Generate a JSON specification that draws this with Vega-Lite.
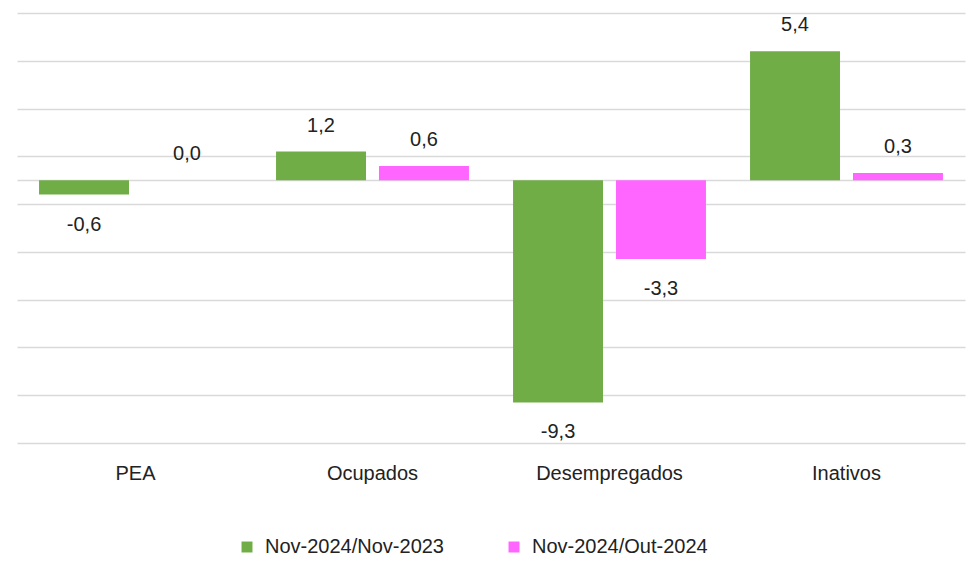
{
  "$schema": "https://vega.github.io/schema/vega-lite/v6.json",
  "width": 948,
  "height": 430,
  "autosize": {"type": "none"},
  "padding": {"left": 17, "top": 13, "right": 5, "bottom": 127},
  "config": {
    "locale": {"number": {"decimal": ",", "thousands": ".", "grouping": [3], "currency": ["", ""], "minus": "-"}},
    "view": {"stroke": null},
    "font": "Liberation Sans"
  },
  "data": {
    "values": [
      {"cat": "PEA", "serie": "Nov-2024/Nov-2023", "value": -0.6},
      {"cat": "PEA", "serie": "Nov-2024/Out-2024", "value": 0.0},
      {"cat": "Ocupados", "serie": "Nov-2024/Nov-2023", "value": 1.2},
      {"cat": "Ocupados", "serie": "Nov-2024/Out-2024", "value": 0.6},
      {"cat": "Desempregados", "serie": "Nov-2024/Nov-2023", "value": -9.3},
      {"cat": "Desempregados", "serie": "Nov-2024/Out-2024", "value": -3.3},
      {"cat": "Inativos", "serie": "Nov-2024/Nov-2023", "value": 5.4},
      {"cat": "Inativos", "serie": "Nov-2024/Out-2024", "value": 0.3}
    ]
  },
  "encoding": {
    "x": {
      "field": "cat", "type": "nominal",
      "sort": ["PEA", "Ocupados", "Desempregados", "Inativos"],
      "scale": {"paddingInner": 0.186, "paddingOuter": 0.093},
      "axis": {"title": null, "labelAngle": 0, "ticks": false, "domain": false, "labelFontSize": 20, "labelPadding": 20, "labelColor": "#222222", "labelFont": "Liberation Sans"}
    },
    "xOffset": {
      "field": "serie", "type": "nominal",
      "sort": ["Nov-2024/Nov-2023", "Nov-2024/Out-2024"],
      "scale": {"paddingInner": 0.126, "paddingOuter": 0}
    },
    "y": {
      "field": "value", "type": "quantitative",
      "scale": {"domain": [-11, 7], "nice": false},
      "axis": {"title": null, "labels": false, "ticks": false, "domain": false, "values": [-11, -9, -7, -5, -3, -1, 0, 1, 3, 5, 7], "gridColor": "#d9d9d9", "gridWidth": 1.5}
    }
  },
  "layer": [
    {
      "mark": {"type": "bar"},
      "encoding": {
        "color": {
          "field": "serie", "type": "nominal",
          "sort": ["Nov-2024/Nov-2023", "Nov-2024/Out-2024"],
          "scale": {"range": ["#70AD47", "#FF66FF"]},
          "legend": {"title": null, "orient": "none", "legendX": 220, "legendY": 524, "direction": "horizontal", "symbolType": "square", "symbolSize": 120, "labelFontSize": 20, "labelColor": "#222222", "labelFont": "Liberation Sans", "columnPadding": 60, "labelOffset": 8, "labelLimit": 400}
        }
      }
    },
    {
      "transform": [{"filter": "datum.value >= 0"}],
      "mark": {"type": "text", "baseline": "bottom", "dy": -16, "fontSize": 20, "color": "#222222"},
      "encoding": {"text": {"field": "value", "type": "quantitative", "format": ".1f"}}
    },
    {
      "transform": [{"filter": "datum.value < 0"}],
      "mark": {"type": "text", "baseline": "top", "dy": 20, "fontSize": 20, "color": "#222222"},
      "encoding": {"text": {"field": "value", "type": "quantitative", "format": ".1f"}}
    }
  ]
}
